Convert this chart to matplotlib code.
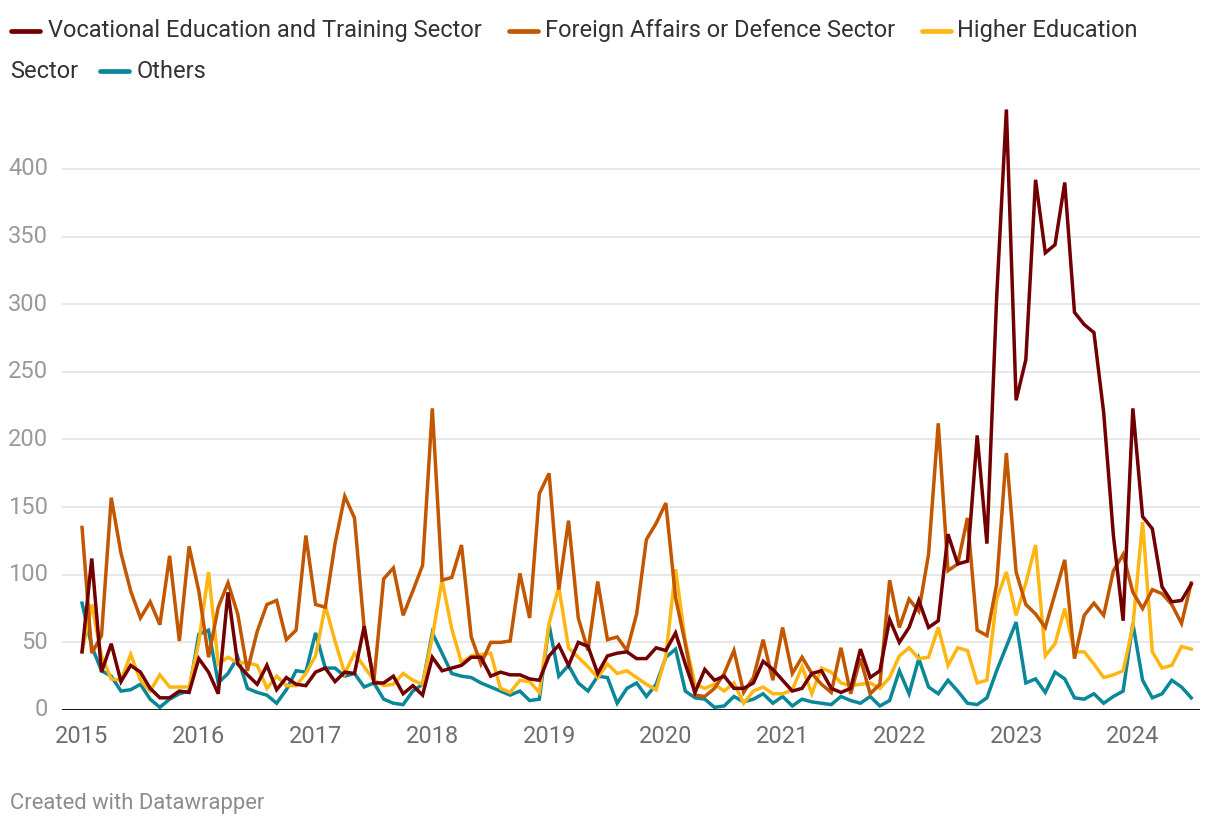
import matplotlib
matplotlib.use("Agg")
import matplotlib.pyplot as plt
from matplotlib.lines import Line2D

plt.rcParams['font.family'] = ['Roboto', 'DejaVu Sans']

# monthly counts, Jan 2015 .. Jul 2024
vocational = [43, 112, 28, 49, 21, 33, 28, 16, 9, 9, 14, 13,
              38, 28, 12, 87, 34, 26, 19, 33, 15, 24, 19, 18,
              28, 31, 21, 28, 27, 62, 20, 20, 25, 12, 18, 11,
              39, 29, 31, 33, 39, 39, 25, 28, 26, 26, 23, 22,
              40, 48, 33, 50, 47, 27, 40, 42, 43, 38, 38, 46,
              44, 57, 34, 13, 30, 22, 25, 16, 16, 20, 36, 30,
              22, 14, 16, 27, 29, 16, 13, 16, 45, 24, 29, 67,
              50, 61, 81, 61, 66, 130, 108, 110, 203, 123, 305, 444,
              229, 259, 392, 338, 344, 390, 294, 285, 279, 220, 129, 66,
              223, 143, 134, 91, 80, 81, 93]
foreign = [135, 42, 55, 157, 116, 88, 68, 80, 63, 114, 51, 121,
           88, 39, 76, 94, 71, 29, 58, 78, 81, 52, 59, 129,
           78, 76, 123, 158, 142, 60, 22, 97, 105, 70, 88, 107,
           223, 96, 98, 122, 54, 34, 50, 50, 51, 101, 68, 160,
           175, 89, 140, 68, 44, 95, 52, 54, 44, 71, 126, 138,
           153, 83, 49, 11, 10, 16, 27, 44, 13, 24, 52, 22,
           61, 27, 39, 27, 19, 13, 46, 12, 38, 12, 19, 96,
           61, 82, 73, 115, 212, 103, 108, 142, 59, 55, 93, 190,
           102, 78, 71, 61, 86, 111, 38, 70, 79, 70, 103, 115,
           87, 75, 89, 86, 78, 64, 94]
higher = [43, 78, 40, 23, 22, 41, 22, 14, 26, 17, 17, 17,
          50, 102, 34, 39, 35, 35, 33, 16, 25, 18, 18, 27,
          40, 77, 51, 27, 42, 32, 22, 18, 19, 27, 22, 19,
          54, 96, 60, 35, 40, 41, 42, 16, 13, 22, 21, 13,
          64, 91, 46, 39, 32, 24, 34, 27, 29, 24, 19, 15,
          40, 104, 51, 19, 16, 19, 14, 20, 5, 14, 17, 12,
          12, 15, 32, 12, 31, 28, 20, 18, 19, 20, 16, 24,
          40, 46, 38, 39, 61, 33, 46, 44, 20, 22, 82, 102,
          70, 94, 122, 40, 49, 75, 43, 43, 34, 24, 26, 29,
          62, 139, 43, 31, 33, 47, 45]
others = [79, 47, 29, 25, 14, 15, 19, 8, 2, 8, 12, 14,
          56, 59, 20, 27, 39, 16, 13, 11, 5, 15, 29, 28,
          57, 31, 31, 25, 27, 17, 20, 8, 5, 4, 14, 19,
          57, 42, 27, 25, 24, 20, 17, 14, 11, 14, 7, 8,
          63, 25, 33, 20, 14, 25, 24, 5, 16, 20, 10, 19,
          39, 45, 14, 9, 8, 2, 3, 10, 6, 8, 12, 5,
          10, 3, 8, 6, 5, 4, 10, 7, 5, 10, 3, 7,
          29, 12, 38, 17, 12, 22, 14, 5, 4, 9, 29, 47,
          65, 20, 23, 13, 28, 23, 9, 8, 12, 5, 10, 14,
          64, 22, 9, 12, 22, 17, 9]

years = list(range(2015, 2025))
y_ticks = [0, 50, 100, 150, 200, 250, 300, 350, 400]

series = [
    ("Vocational Education and Training Sector", vocational, "#720000"),
    ("Foreign Affairs or Defence Sector", foreign, "#c25700"),
    ("Higher Education Sector", higher, "#ffb612"),
    ("Others", others, "#0a8799"),
]

fig = plt.figure(figsize=(12.2, 8.26), dpi=100)
W, H = 1220, 826
ax = fig.add_axes([62 / W, 116 / H, (1200 - 62) / W, (710 - 100) / H])

months = list(range(len(vocational)))
zorders = [5, 4, 3, 2]
for (name, vals, col), z in zip(series, zorders):
    ax.plot(months, vals, color=col, lw=2.5, zorder=z, solid_joinstyle='miter')

ax.set_xlim(-2.06, 114.9)
ax.set_ylim(0, 451)

for s in ax.spines.values():
    s.set_visible(False)
ax.set_yticks([])
ax.set_xticks([])

for v in y_ticks[1:]:
    ax.axhline(v, color="#e4e4e4", lw=1.2, zorder=0)
ax.axhline(0, color="#1a1a1a", lw=2.2, zorder=6)

ytr = ax.get_yaxis_transform()
for v in y_ticks:
    ax.text(-0.012, v, str(v), transform=ytr, ha='right', va='center',
            fontsize=17, color="#9a9a9a")

xtr = ax.get_xaxis_transform()
for k, yr in enumerate(years):
    ax.text(k * 12, -0.043, str(yr), transform=xtr, ha='center', va='center',
            fontsize=17, color="#6e6e6e")

# legend, laid out like the wrapped datawrapper legend
def px(x, y):
    return x / W, 1 - y / H

def legend_mark(x0, y, col):
    fig.add_artist(Line2D([x0 / W, (x0 + 29) / W], [1 - y / H, 1 - y / H],
                          color=col, lw=3.4, solid_capstyle='round',
                          transform=fig.transFigure))

lab_kw = dict(fontsize=17, color="#333333", va='center', ha='left')
legend_mark(11, 31, series[0][2])
fig.text(*px(48, 31), "Vocational Education and Training Sector", **lab_kw)
legend_mark(509, 31, series[1][2])
fig.text(*px(545, 31), "Foreign Affairs or Defence Sector", **lab_kw)
legend_mark(922, 31, series[2][2])
fig.text(*px(957, 31), "Higher Education", **lab_kw)
fig.text(*px(10, 71), "Sector", **lab_kw)
legend_mark(100, 71, series[3][2])
fig.text(*px(137, 71), "Others", **lab_kw)

fig.text(*px(10, 803), "Created with Datawrapper", fontsize=15.8,
         color="#8c8c8c", va='center', ha='left')

fig.savefig("out.png", dpi=100, facecolor="white")
